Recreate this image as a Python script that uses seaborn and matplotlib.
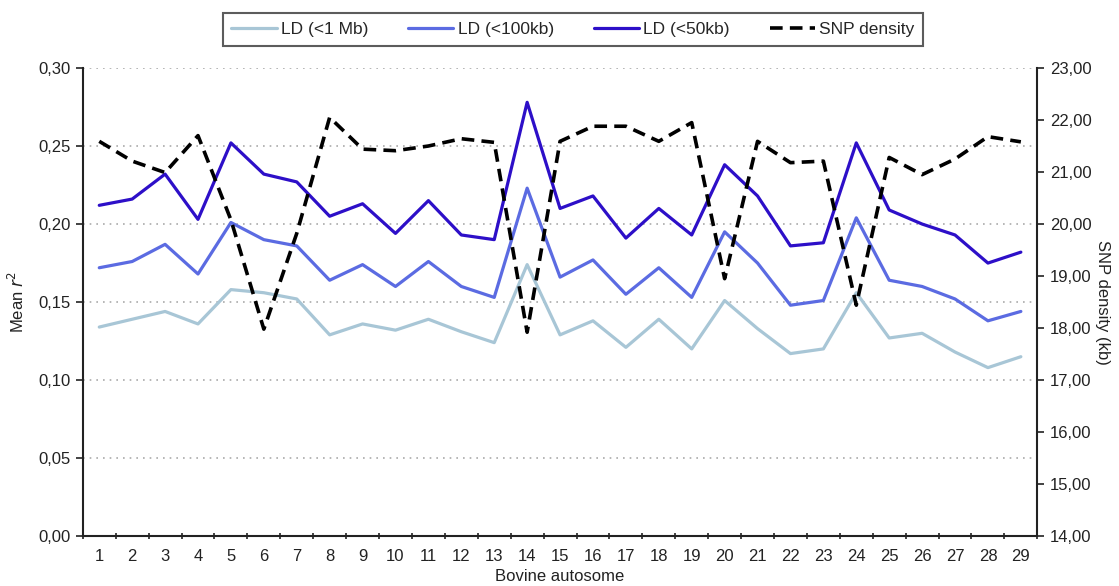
import numpy as np
import pandas as pd
import matplotlib
matplotlib.use("Agg")
import matplotlib.pyplot as plt
import seaborn as sns
from matplotlib.ticker import FuncFormatter, MultipleLocator

sns.set_theme(style="white")
plt.rcParams['font.family'] = ['Liberation Sans', 'DejaVu Sans']

chromosomes = list(range(1, 30))
ld_1mb = [0.134, 0.139, 0.144, 0.136, 0.158, 0.156, 0.152, 0.129, 0.136, 0.132,
          0.139, 0.131, 0.124, 0.174, 0.129, 0.138, 0.121, 0.139, 0.120, 0.151,
          0.133, 0.117, 0.120, 0.156, 0.127, 0.130, 0.118, 0.108, 0.115]
ld_100kb = [0.172, 0.176, 0.187, 0.168, 0.201, 0.190, 0.186, 0.164, 0.174, 0.160,
            0.176, 0.160, 0.153, 0.223, 0.166, 0.177, 0.155, 0.172, 0.153, 0.195,
            0.175, 0.148, 0.151, 0.204, 0.164, 0.160, 0.152, 0.138, 0.144]
ld_50kb = [0.212, 0.216, 0.232, 0.203, 0.252, 0.232, 0.227, 0.205, 0.213, 0.194,
           0.215, 0.193, 0.190, 0.278, 0.210, 0.218, 0.191, 0.210, 0.193, 0.238,
           0.218, 0.186, 0.188, 0.252, 0.209, 0.200, 0.193, 0.175, 0.182]
snp_density = [21.59, 21.21, 20.99, 21.70, 20.08, 17.98, 19.82, 22.05, 21.44, 21.41,
               21.50, 21.64, 21.57, 17.92, 21.59, 21.88, 21.88, 21.59, 21.95, 18.95,
               21.59, 21.18, 21.21, 18.44, 21.28, 20.95, 21.25, 21.68, 21.58]

df = pd.DataFrame({"chrom": chromosomes, "ld_1mb": ld_1mb, "ld_100kb": ld_100kb,
                   "ld_50kb": ld_50kb, "snp": snp_density})

fig = plt.figure(figsize=(11.19, 5.86), dpi=100)
ax = fig.add_axes([0.074, 0.085, 0.853, 0.799])
ax2 = ax.twinx()

c_light = "#a8c6d6"
c_mid = "#5b6be2"
c_dark = "#2d0fc8"

sns.lineplot(data=df, x="chrom", y="ld_1mb", ax=ax, color=c_light, lw=2.3, label="LD (<1 Mb)", legend=False)
sns.lineplot(data=df, x="chrom", y="ld_100kb", ax=ax, color=c_mid, lw=2.3, label="LD (<100kb)", legend=False)
sns.lineplot(data=df, x="chrom", y="ld_50kb", ax=ax, color=c_dark, lw=2.3, label="LD (<50kb)", legend=False)
sns.lineplot(data=df, x="chrom", y="snp", ax=ax2, color="black", lw=2.6, label="SNP density", legend=False)
for l in ax2.get_lines():
    l.set_dashes([3.5, 2.0])

ax.set_xlim(0.5, 29.5)
ax.set_ylim(0, 0.30)
ax2.set_ylim(14, 23)

fmt = FuncFormatter(lambda v, p: f"{v:.2f}".replace(".", ","))
ax.yaxis.set_major_locator(MultipleLocator(0.05))
ax2.yaxis.set_major_locator(MultipleLocator(1))
ax.yaxis.set_major_formatter(fmt)
ax2.yaxis.set_major_formatter(fmt)

ax.set_xticks(chromosomes)
ax.set_xticks(np.arange(0.5, 30, 1), minor=True)
ax.tick_params(axis="x", which="major", length=0, labelsize=12, pad=9, colors="#222222")
ax.tick_params(axis="x", which="minor", length=5, width=1.2, direction="inout", color="#222222", bottom=True)
ax.tick_params(axis="y", which="major", length=5, width=1.2, direction="out", left=True,
               labelsize=12, colors="#222222", pad=4)
ax2.tick_params(axis="y", which="major", length=5, width=1.2, direction="out", right=True,
                labelsize=12, colors="#222222", pad=4)

ax.yaxis.grid(True, linestyle=(0, (1, 3)), color="#aaaaaa", lw=1.2)
ax.xaxis.grid(False)
ax2.grid(False)

for a in (ax, ax2):
    a.spines["top"].set_visible(False)
    for s in ("left", "right", "bottom"):
        a.spines[s].set_color("#222222")
        a.spines[s].set_linewidth(1.5)
ax.spines["right"].set_visible(False)
ax2.spines["left"].set_visible(False)
ax2.spines["bottom"].set_visible(False)

ax.set_xlabel("Bovine autosome", fontsize=12, color="#222222", labelpad=4)
ax.set_ylabel("Mean $r^2$", fontsize=12, color="#222222", labelpad=8)
ax2.set_ylabel("SNP density (kb)", fontsize=12, color="#222222", rotation=270, labelpad=13)

h1, l1 = ax.get_legend_handles_labels()
h2, l2 = ax2.get_legend_handles_labels()
leg = fig.legend(h1 + h2, l1 + l2, loc="center", bbox_to_anchor=(0.512, 0.95), ncol=4,
                 frameon=True, fancybox=False, fontsize=12.5, handlelength=2.6,
                 columnspacing=2.3, handletextpad=0.25, borderpad=0.5)
leg.get_frame().set_edgecolor("#333333")
leg.get_frame().set_linewidth(1.5)

fig.savefig("out.png", dpi=100)
